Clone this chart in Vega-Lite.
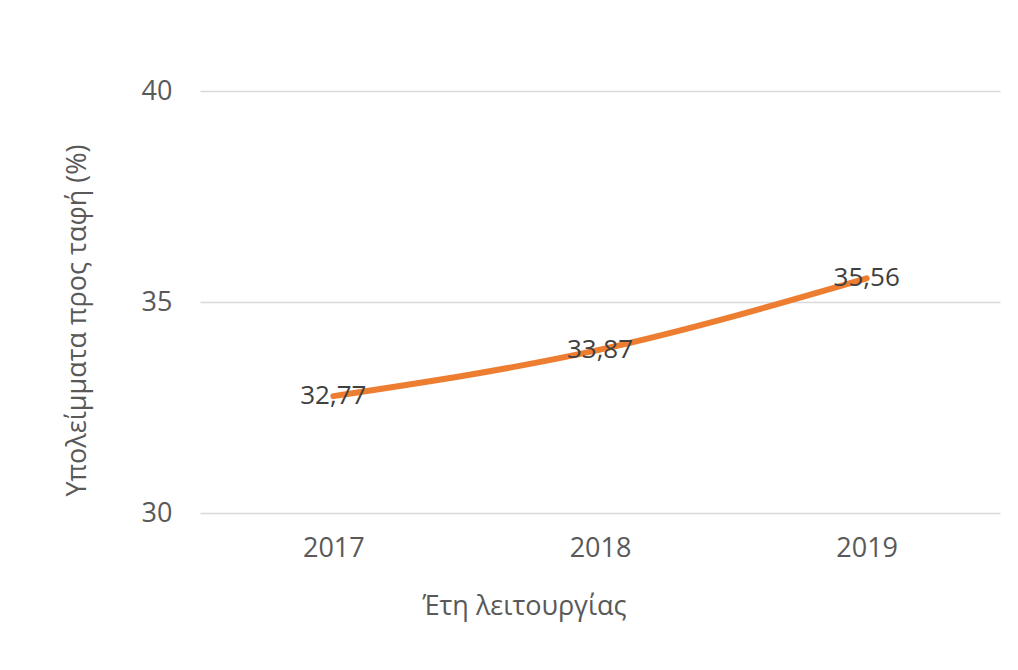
{
  "$schema": "https://vega.github.io/schema/vega-lite/v6.json",
  "width": 800,
  "height": 422,
  "autosize": "none",
  "padding": {"left": 200, "top": 91, "right": 18, "bottom": 157},
  "background": "white",
  "config": {
    "font": "Open Sans",
    "view": {"stroke": null},
    "locale": {"number": {"decimal": ",", "thousands": ".", "grouping": [3], "currency": ["", " €"]}}
  },
  "data": {"values": [
    {"year": "2017", "value": 32.77},
    {"year": "2018", "value": 33.87},
    {"year": "2019", "value": 35.56}
  ]},
  "encoding": {
    "x": {
      "field": "year", "type": "ordinal",
      "scale": {"paddingInner": 0, "paddingOuter": 0},
      "axis": {
        "title": "Έτη λειτουργίας",
        "labelAngle": 0,
        "domain": false, "ticks": false,
        "labelFontSize": 27, "labelColor": "#595959", "labelPadding": 22,
        "titleFontSize": 27, "titleColor": "#595959", "titleFontWeight": "normal",
        "titlePadding": 32, "titleX": 324
      }
    },
    "y": {
      "field": "value", "type": "quantitative",
      "scale": {"domain": [30, 40], "zero": false},
      "axis": {
        "title": "Υπολείμματα προς ταφή (%)",
        "values": [30, 35, 40],
        "domain": false, "ticks": false,
        "labelFontSize": 27, "labelColor": "#595959", "labelPadding": 28,
        "grid": true, "gridColor": "#d9d9d9", "gridWidth": 1.5,
        "titleFontSize": 27, "titleColor": "#595959", "titleFontWeight": "normal",
        "titlePadding": 50, "titleY": 229
      }
    }
  },
  "layer": [
    {
      "mark": {"type": "line", "color": "#ED7D31", "strokeWidth": 6, "interpolate": "monotone", "strokeCap": "round"}
    },
    {
      "mark": {"type": "text", "fontSize": 26, "color": "#404040", "baseline": "middle", "align": "center"},
      "encoding": {"text": {"field": "value", "type": "quantitative", "format": ".2f"}}
    }
  ]
}
